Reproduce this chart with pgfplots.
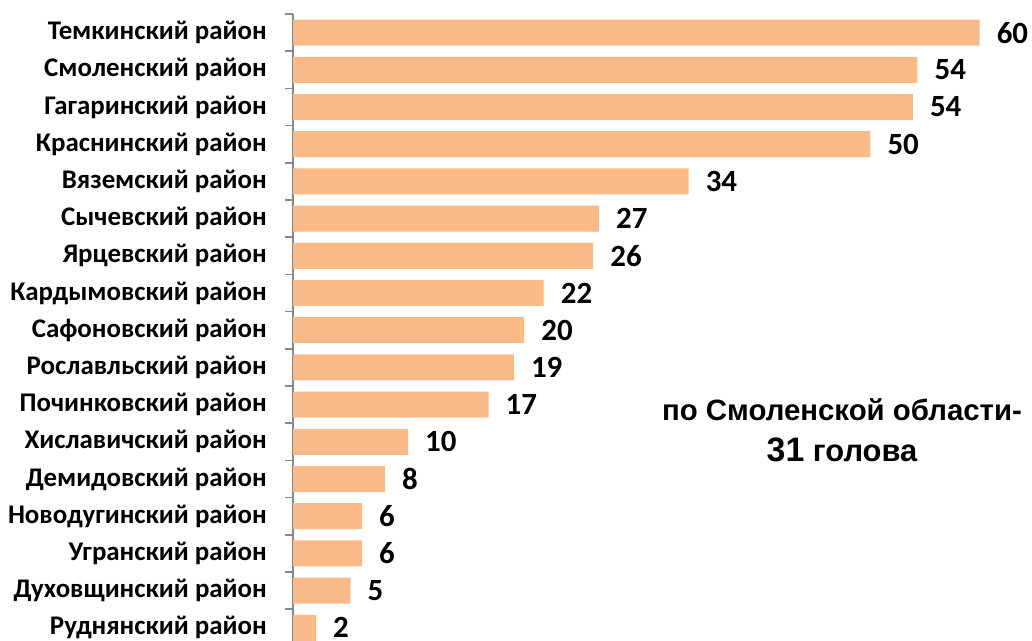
\documentclass[border=0pt]{standalone}
\usepackage{fontspec}
\setmainfont{Carlito}
\newfontfamily\arialf{Liberation Sans}
\usepackage{pgfplots}
\pgfplotsset{compat=1.18}
\definecolor{barc}{RGB}{249,186,136}
\definecolor{axc}{RGB}{137,137,137}
\begin{document}
\begin{tikzpicture}
\begin{axis}[
  at={(293bp,627bp)}, anchor=north west,
  x=11.5bp, y=37.2bp,
  xmin=0, xmax=60,
  ymin=-0.5, ymax=16.35,
  y dir=reverse,
  xbar, bar width=26bp, bar shift=0pt,
  axis x line=none,
  axis y line*=left,
  axis line style={axc, line width=1.8bp, -},
  ytick={0,...,16},
  yticklabels={Темкинский район, Смоленский район, Гагаринский район, Краснинский район, Вяземский район, Сычевский район, Ярцевский район, Кардымовский район, Сафоновский район, Рославльский район, Починковский район, Хиславичский район, Демидовский район, Новодугинский район, Угранский район, Духовщинский район, Руднянский район},
  major tick length=0pt,
  minor ytick={-0.5,0.5,...,15.5},
  minor tick length=8bp,
  tick align=outside,
  minor tick style={axc, line width=1.5bp},
  yticklabel style={font=\fontsize{27}{30}\selectfont\bfseries, anchor=east, inner sep=0pt, xshift=-26bp},
  point meta=explicit symbolic,
  nodes near coords,
  nodes near coords style={font=\fontsize{31}{34}\selectfont\bfseries, anchor=west, inner sep=0pt, xshift=17bp, text=black},
  clip=true,
]
\addplot[fill=barc, draw=none] coordinates {
(59.7,0) [60]
(54.3,1) [54]
(53.9,2) [54]
(50.2,3) [50]
(34.4,4) [34]
(26.6,5) [27]
(26.1,6) [26]
(21.8,7) [22]
(20.1,8) [20]
(19.2,9) [19]
(17.0,10) [17]
(10.0,11) [10]
(8.0,12) [8]
(6.0,13) [6]
(6.0,14) [6]
(5.0,15) [5]
(2.0,16) [2]
};
\end{axis}
\node[font=\arialf\bfseries\fontsize{29.5}{32}\selectfont] at (842bp,231bp) {по Смоленской области-};
\node[font=\arialf\bfseries\fontsize{31}{34}\selectfont] at (842bp,191bp) {{\fontsize{34}{36}\selectfont 31} голова};
\pgfresetboundingbox
\useasboundingbox (0,0) rectangle (1032bp,641bp);
\end{tikzpicture}
\end{document}
